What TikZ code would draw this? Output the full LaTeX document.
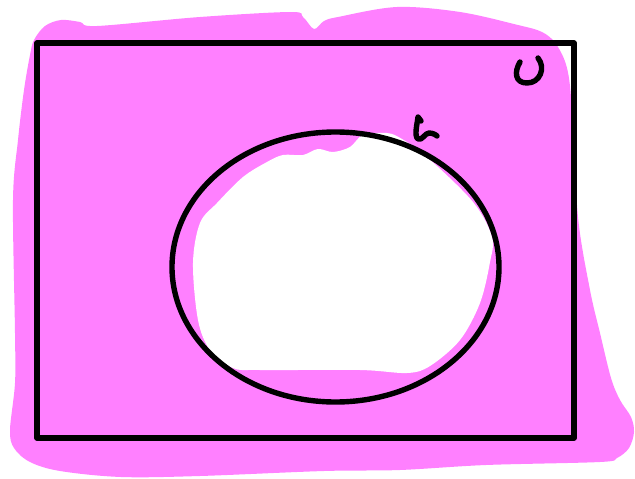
\documentclass[tikz,border=0pt]{standalone}
\usetikzlibrary{shapes.geometric}
\definecolor{blobpink}{RGB}{255,128,255}
\tikzset{
  ink/.style={draw=black, line width=5.4pt, line join=round, line cap=round},
  blob/.style={fill=blobpink, draw=none},
  hole/.style={fill=white, draw=none}
}
\begin{document}
\begin{tikzpicture}[x=1pt,y=-1pt]
\useasboundingbox (0,0) rectangle (635,479);
% pink shading
\fill[blob] plot[smooth cycle, tension=0.55] coordinates {
 (34,40) (45,26) (61,20) (80,22) (97,26) (200,17) (291,12) (303,17) (314,29) (324,21) (338,17)
 (397,7) (460,12) (518,25) (542,32) (556,44) (567,68) (572,110) (578,217) (590,290) (600,333)
 (611,378) (620,400) (631,417) (634,432) (629,448) (617,458) (600,462) (486,465) (400,470)
 (324,471) (200,476) (121,477) (60,471) (30,462) (14,448) (10,430) (15,383) (15,333) (13,200)
 (18,140) (24,90) (30,55)};
% white interior
\fill[hole] plot[smooth cycle, tension=0.55] coordinates {
 (283,155) (303,155) (318,149) (333,152) (350,147) (363,135) (387,133) (402,139) (427,157)
 (473,202) (492,237) (490,262) (480,303) (460,340) (430,366) (407,373) (360,370) (260,370)
 (233,368) (210,350) (198,320) (193,263) (200,223) (217,203) (243,177) (267,162)};
% universe and set
\draw[ink] (37,43) rectangle (574,438);
\node[ink, ellipse, minimum width=327pt, minimum height=270pt, inner sep=0pt] (A) at (335.5,267) {};
% handwritten labels
\draw[ink] (520,62) .. controls (514,72) and (515,83) .. (527,83)
  .. controls (540,83) and (546,68) .. (538,58);
\draw[ink] (418,117) -- (421,121) (418,117) .. controls (417,125) and (414,136) .. (418,139)
  .. controls (422,141) and (425,133) .. (429,133) .. controls (433,133) and (436,135) .. (437,136);
\end{tikzpicture}
\end{document}
